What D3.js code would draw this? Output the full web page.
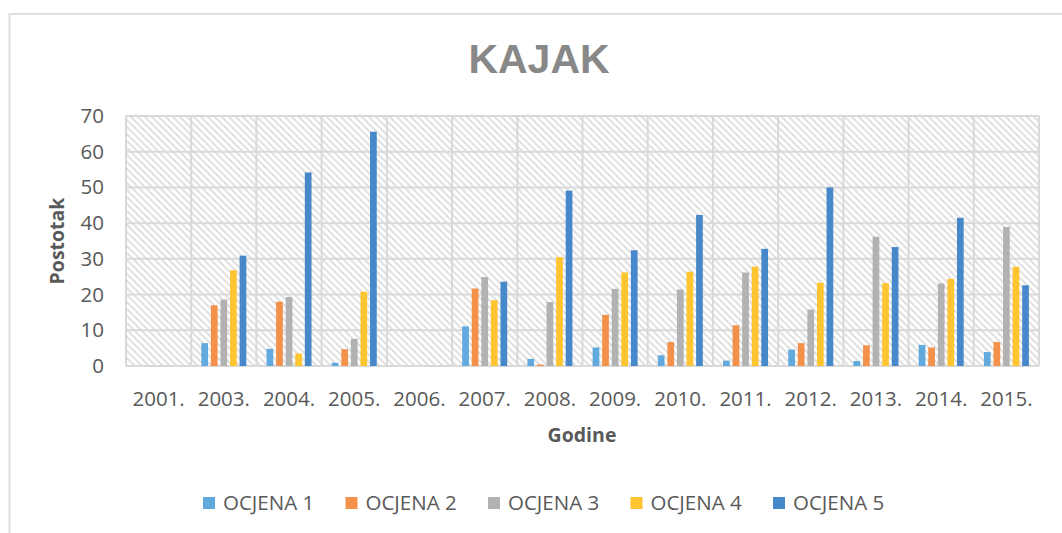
<!DOCTYPE html>
<html>
<head>
<meta charset="utf-8">
<script src="https://cdnjs.cloudflare.com/ajax/libs/d3/7.8.5/d3.min.js"></script>
<style>
  html, body { margin: 0; padding: 0; background: #ffffff; }
  svg { display: block; }
</style>
</head>
<body>
<svg id="chart" width="1062" height="533"></svg>
<script>
// ---- data ----
const title = "KAJAK";
const years = ["2001.","2003.","2004.","2005.","2006.","2007.","2008.","2009.","2010.","2011.","2012.","2013.","2014.","2015."];
const seriesNames = ["OCJENA 1","OCJENA 2","OCJENA 3","OCJENA 4","OCJENA 5"];
const ocjena1 = [null, 6.4, 4.8, 0.9, null, 11.1, 2.0, 5.2, 3.0, 1.5, 4.6, 1.4, 5.9, 3.9];
const ocjena2 = [null, 17.0, 18.0, 4.7, null, 21.7, 0.4, 14.3, 6.7, 11.4, 6.4, 5.8, 5.2, 6.7];
const ocjena3 = [null, 18.6, 19.3, 7.6, null, 24.9, 17.9, 21.6, 21.4, 26.2, 15.8, 36.2, 23.1, 38.9];
const ocjena4 = [null, 26.8, 3.5, 20.8, null, 18.4, 30.5, 26.2, 26.4, 27.8, 23.3, 23.2, 24.4, 27.8];
const ocjena5 = [null, 30.9, 54.2, 65.6, null, 23.6, 49.1, 32.4, 42.3, 32.8, 50.0, 33.3, 41.5, 22.6];
const yTicks = [0, 10, 20, 30, 40, 50, 60, 70];
const xTitle = "Godine";
const yTitle = "Postotak";

const seriesValues = [ocjena1, ocjena2, ocjena3, ocjena4, ocjena5];
const colors = ["#62a9dd", "#f3914b", "#b2b2b2", "#ffc531", "#4788ca"];

// ---- layout ----
const plot = { left: 126, right: 1039, top: 116, bottom: 366 };
const svg = d3.select("#chart");
const textFont = "'Open Sans', sans-serif";
const textColor = "#595959";

// pattern
const defs = svg.append("defs");
const pat = defs.append("pattern")
  .attr("id", "hatch").attr("patternUnits", "userSpaceOnUse")
  .attr("width", 7).attr("height", 7);
pat.append("rect").attr("width", 7).attr("height", 7).attr("fill", "#ffffff");
pat.append("path")
  .attr("d", "M-1,-1 L8,8 M-1,6 L1,8 M6,-1 L8,1")
  .attr("stroke", "#e2e2e2").attr("stroke-width", 2.2);

// outer chart border
svg.append("rect")
  .attr("x", 9.5).attr("y", 14).attr("width", 1100).attr("height", 560)
  .attr("fill", "none").attr("stroke", "#dedede").attr("stroke-width", 2);

// scales
const x0 = d3.scaleBand().domain(years).range([plot.left, plot.right]).padding(0);
const bw = x0.bandwidth();
const x1 = d3.scaleBand().domain(seriesNames)
  .range([bw * 0.155, bw * 0.845]).paddingInner(0.3).paddingOuter(0);
const y = d3.scaleLinear().domain([0, 70]).range([plot.bottom, plot.top]);

// plot background
svg.append("rect")
  .attr("x", plot.left).attr("y", plot.top)
  .attr("width", plot.right - plot.left).attr("height", plot.bottom - plot.top)
  .attr("fill", "url(#hatch)");

// gridlines
const grid = svg.append("g").attr("stroke", "#d9d9d9").attr("stroke-width", 2);
grid.selectAll("line.h").data(yTicks).join("line")
  .attr("x1", plot.left).attr("x2", plot.right)
  .attr("y1", d => y(d)).attr("y2", d => y(d));
const bounds = years.map(d => x0(d)).concat([x0(years[years.length - 1]) + bw]);
grid.selectAll("line.v").data(bounds).join("line")
  .attr("x1", d => d).attr("x2", d => d)
  .attr("y1", plot.top).attr("y2", plot.bottom);

// bars
const rows = [];
years.forEach((yr, i) => {
  seriesNames.forEach((s, j) => {
    const v = seriesValues[j][i];
    if (v !== null) rows.push({ yr, s, v, j });
  });
});
svg.append("g").selectAll("rect").data(rows).join("rect")
  .attr("x", d => x0(d.yr) + x1(d.s))
  .attr("width", x1.bandwidth())
  .attr("y", d => y(d.v))
  .attr("height", d => y(0) - y(d.v))
  .attr("fill", d => colors[d.j]);

// y axis
const yAxis = svg.append("g").attr("transform", `translate(${plot.left},0)`)
  .call(d3.axisLeft(y).tickValues(yTicks).tickSize(0).tickPadding(22));
yAxis.select(".domain").remove();
yAxis.selectAll("text")
  .attr("font-family", textFont).attr("font-size", 20.5).attr("fill", textColor);

// x axis
const xAxis = svg.append("g").attr("transform", `translate(0,${plot.bottom})`)
  .call(d3.axisBottom(x0).tickSize(0));
xAxis.select(".domain").remove();
xAxis.selectAll("text")
  .attr("y", 39.5).attr("dy", 0)
  .attr("font-family", textFont).attr("font-size", 20.5).attr("fill", textColor);

// title
svg.append("text")
  .attr("x", 539).attr("y", 73).attr("text-anchor", "middle")
  .attr("font-family", "'Liberation Sans', Arial, sans-serif")
  .attr("font-weight", "bold").attr("font-size", 41).attr("fill", "#888888")
  .text(title);

// axis titles
svg.append("text")
  .attr("x", 582).attr("y", 442).attr("text-anchor", "middle")
  .attr("font-family", textFont).attr("font-weight", "bold")
  .attr("font-size", 19.5).attr("fill", textColor)
  .text(xTitle);
svg.append("text")
  .attr("transform", `translate(64,${(plot.top + plot.bottom) / 2}) rotate(-90)`)
  .attr("text-anchor", "middle")
  .attr("font-family", textFont).attr("font-weight", "bold")
  .attr("font-size", 19.5).attr("fill", textColor)
  .text(yTitle);

// legend
const legendX = d3.scalePoint().domain(seriesNames).range([203, 773]);
const lg = svg.append("g").selectAll("g").data(seriesNames).join("g")
  .attr("transform", d => `translate(${legendX(d)},503)`);
lg.append("rect").attr("x", 0).attr("y", -6).attr("width", 12).attr("height", 12)
  .attr("fill", (d, i) => colors[i]);
lg.append("text").attr("x", 20).attr("y", 0).attr("dy", "0.35em")
  .attr("font-family", textFont).attr("font-size", 20.5).attr("fill", textColor)
  .text(d => d);
</script>
</body>
</html>
